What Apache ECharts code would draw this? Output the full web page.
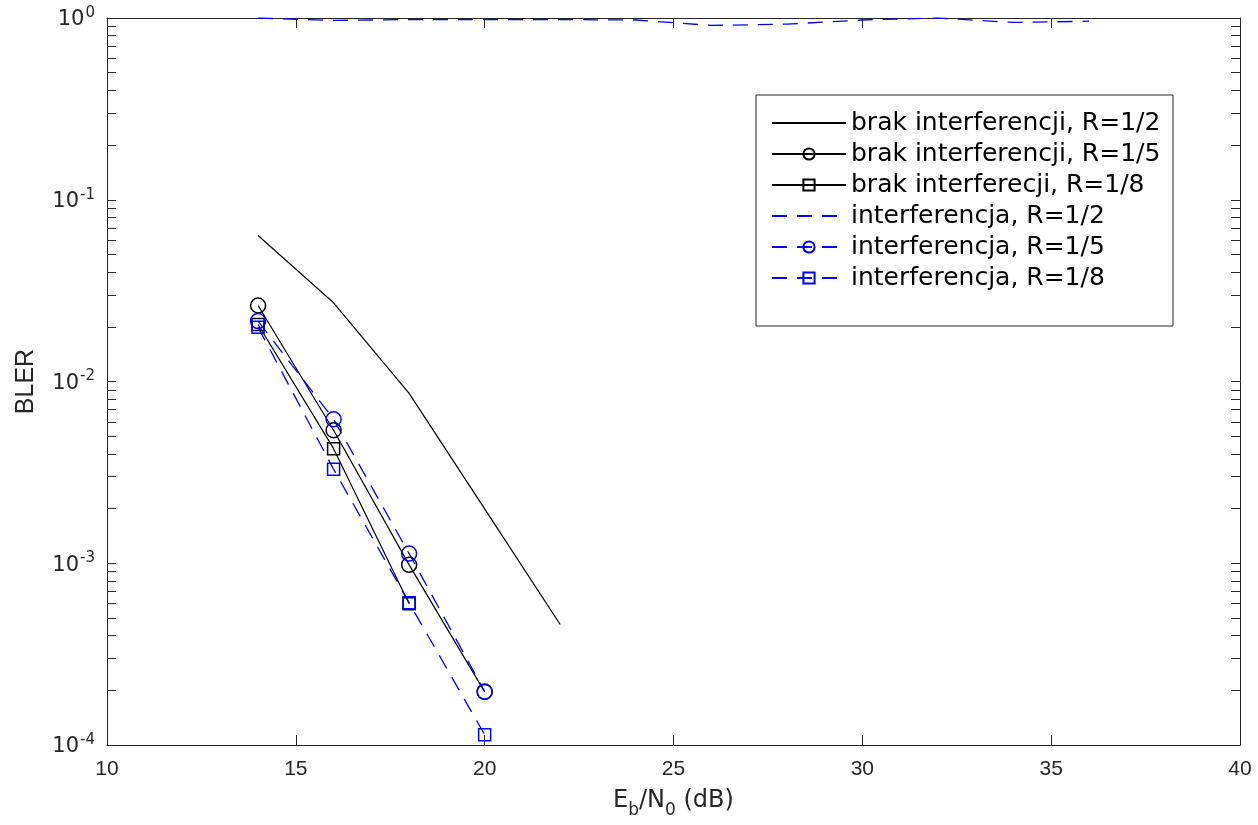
<!DOCTYPE html>
<html>
<head>
<meta charset="utf-8">
<script src="https://cdn.jsdelivr.net/npm/echarts@6/dist/echarts.min.js"></script>
<style>
  html, body { margin: 0; padding: 0; background: #fff; }
  #chart { width: 1258px; height: 825px; }
</style>
</head>
<body>
<div id="chart"></div>
<script>
// Eb/N0 (dB) for each curve
const xR12 = [14, 16, 18, 20, 22];
const xR15 = [14, 16, 18, 20];
const xR18 = [14, 16, 18];
const xR18i = [14, 16, 18, 20];
const xIntR12 = [14, 16, 18, 20, 22, 24, 26, 28, 30, 32, 34, 36];

// BLER values
const noIntR12 = [0.0636, 0.0271, 0.0086, 0.00199, 0.00046];
const noIntR15 = [0.0262, 0.00539, 0.00098, 0.000196];
const noIntR18 = [0.0206, 0.00427, 0.000598];
const intR12 = [1.0, 0.97, 0.98, 0.98, 0.98, 0.975, 0.91, 0.925, 0.975, 1.0, 0.945, 0.96];
const intR15 = [0.0215, 0.0062, 0.00113, 0.000197];
const intR18 = [0.0199, 0.00329, 0.000606, 0.000114];

const names = [
  'brak interferencji, R=1/2',
  'brak interferencji, R=1/5',
  'brak interferecji, R=1/8',
  'interferencja, R=1/2',
  'interferencja, R=1/5',
  'interferencja, R=1/8'
];

// log-axis ticks: decades plus 2..9 minors
const yTicks = [];
for (let e = -4; e < 0; e++) {
  for (let m = 1; m <= 9; m++) yTicks.push(+(m * Math.pow(10, e)).toPrecision(3));
}
yTicks.push(1);

const axisColor = '#262626';
const font = 'Liberation Sans, Arial, sans-serif';
const wide = 'DejaVu Sans, sans-serif';

function pairs(xs, ys) {
  return xs.map((x, i) => [x, ys[i]]);
}

function mkSeries(name, data, color, dashed, symbol, size) {
  return {
    name: name,
    type: 'line',
    data: data,
    symbol: symbol || 'circle',
    symbolSize: size || 0,
    showSymbol: !!symbol,
    lineStyle: { color: color, width: dashed ? 1.3 : 1.2, type: dashed ? [15, 10] : 'solid' },
    itemStyle: symbol
      ? { color: 'rgba(0,0,0,0)', borderColor: color, borderWidth: 1.5 }
      : { color: 'rgba(0,0,0,0)', borderColor: 'rgba(0,0,0,0)', borderWidth: 0 },
    emphasis: { disabled: true },
    animation: false
  };
}

const chart = echarts.init(document.getElementById('chart'));
chart.setOption({
  backgroundColor: '#fff',
  grid: { left: 107, right: 18, top: 18, bottom: 80, containLabel: false },
  legend: {
    orient: 'vertical',
    left: 756,
    top: 95,
    padding: [13, 12, 33, 15],
    itemWidth: 74,
    itemHeight: 14,
    itemGap: 1,
    itemTextGap: 11,
    borderColor: axisColor,
    borderWidth: 1,
    backgroundColor: '#fff',
    textStyle: { fontFamily: wide, fontSize: 25, lineHeight: 30, color: '#000', width: 310 },
    data: names
  },
  xAxis: [{
    type: 'value', min: 10, max: 40, interval: 5,
    name: '{n|E}{s|b}{n|/N}{s|0}{n| (dB)}',
    nameLocation: 'middle', nameGap: 44,
    nameTextStyle: {
      rich: {
        n: { fontFamily: wide, fontSize: 24, color: axisColor, verticalAlign: 'bottom', padding: [0, 0, 6, 0] },
        s: { fontFamily: wide, fontSize: 17, color: axisColor, verticalAlign: 'bottom' }
      }
    },
    axisLine: { onZero: false, lineStyle: { color: axisColor, width: 1 } },
    axisTick: { inside: true, length: 10, lineStyle: { color: axisColor } },
    axisLabel: { fontFamily: font, fontSize: 21, color: axisColor, margin: 14 },
    splitLine: { show: false }
  }, {
    type: 'value', min: 10, max: 40, interval: 5, position: 'top',
    axisLine: { onZero: false, lineStyle: { color: axisColor, width: 1 } },
    axisTick: { inside: true, length: 10, lineStyle: { color: axisColor } },
    axisLabel: { show: false },
    splitLine: { show: false }
  }],
  yAxis: [{
    type: 'log', logBase: 10, min: 1e-4, max: 1,
    name: 'BLER', nameLocation: 'middle', nameGap: 68,
    nameTextStyle: { fontFamily: font, fontSize: 25, color: axisColor },
    axisLine: { onZero: false, lineStyle: { color: axisColor, width: 1 } },
    axisTick: { inside: true, length: 9, customValues: yTicks, lineStyle: { color: axisColor } },
    axisLabel: {
      margin: 12,
      formatter: function (v) {
        const e = Math.round(Math.log10(v));
        return '{a|10}{e|' + e + '}';
      },
      rich: {
        a: { fontFamily: wide, fontSize: 21, color: axisColor, verticalAlign: 'bottom' },
        e: { fontFamily: wide, fontSize: 15, color: axisColor, verticalAlign: 'bottom', padding: [0, 0, 10, 1] }
      }
    },
    splitLine: { show: false }
  }, {
    type: 'log', logBase: 10, min: 1e-4, max: 1, position: 'right',
    axisLine: { onZero: false, lineStyle: { color: axisColor, width: 1 } },
    axisTick: { inside: true, length: 9, customValues: yTicks, lineStyle: { color: axisColor } },
    axisLabel: { show: false },
    splitLine: { show: false }
  }],
  series: [
    mkSeries(names[0], pairs(xR12, noIntR12), '#000', false),
    mkSeries(names[1], pairs(xR15, noIntR15), '#000', false, 'circle', 15),
    mkSeries(names[2], pairs(xR18, noIntR18), '#000', false, 'rect', 12),
    mkSeries(names[3], pairs(xIntR12, intR12), '#0000ff', true),
    mkSeries(names[4], pairs(xR15, intR15), '#0000ff', true, 'circle', 15),
    mkSeries(names[5], pairs(xR18i, intR18), '#0000ff', true, 'rect', 12)
  ]
});
</script>
</body>
</html>
